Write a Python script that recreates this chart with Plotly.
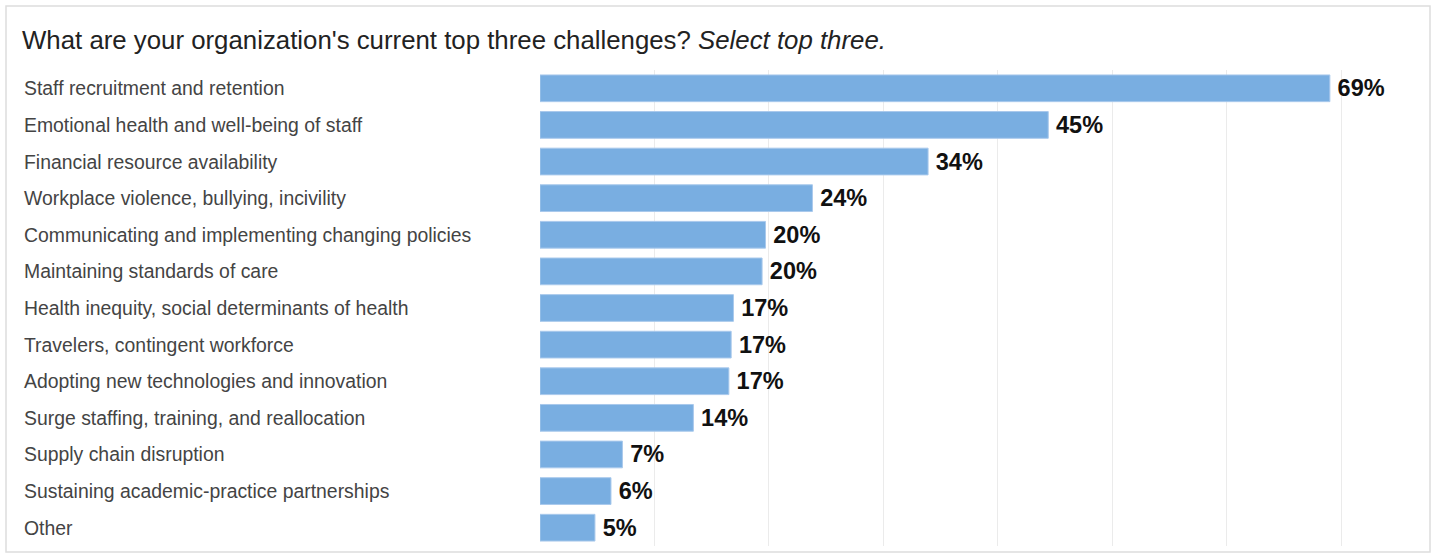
import plotly.graph_objects as go

categories = [
    "Staff recruitment and retention",
    "Emotional health and well-being of staff",
    "Financial resource availability",
    "Workplace violence, bullying, incivility",
    "Communicating and implementing changing policies",
    "Maintaining standards of care",
    "Health inequity, social determinants of health",
    "Travelers, contingent workforce",
    "Adopting new technologies and innovation",
    "Surge staffing, training, and reallocation",
    "Supply chain disruption",
    "Sustaining academic-practice partnerships",
    "Other",
]
values = [69.0, 44.4, 33.9, 23.8, 19.7, 19.4, 16.9, 16.7, 16.5, 13.4, 7.2, 6.2, 4.8]
labels = ["69%", "45%", "34%", "24%", "20%", "20%", "17%", "17%", "17%", "14%", "7%", "6%", "5%"]

W, H = 1433, 555
ML, MR, MT, MB = 540, 23, 70, 9
pw = W - ML - MR
ph = H - MT - MB

fig = go.Figure()
fig.add_trace(go.Bar(
    x=values,
    y=categories,
    orientation="h",
    text=labels,
    textposition="outside",
    textfont=dict(family="Liberation Sans, Arial", size=23.5, color="#111111"),
    texttemplate="\u2009<b>%{text}</b>",
    marker=dict(color="#79aee1", line=dict(color="#a9c9ec", width=1)),
    cliponaxis=False,
    hoverinfo="skip",
))

annotations = []
for c in categories:
    annotations.append(dict(
        x=(22 - ML) / pw, xref="paper", xanchor="left",
        y=c, yref="y", yanchor="middle",
        text=c, showarrow=False,
        font=dict(family="Liberation Sans, Arial", size=19.4, color="#444444"),
    ))
annotations.append(dict(
    x=(20 - ML) / pw, xref="paper", xanchor="left",
    y=(H - MB - 40) / ph, yref="paper", yanchor="middle",
    text="What are your organization's current top three challenges? <i>Select top three.</i>",
    showarrow=False,
    font=dict(family="Liberation Sans, Arial", size=25.8, color="#222222"),
))

shapes = [dict(
    type="rect", xref="paper", yref="paper",
    x0=(6 - ML) / pw, x1=(1430 - ML) / pw,
    y0=(H - MB - 552) / ph, y1=(H - MB - 6) / ph,
    line=dict(color="#dddddd", width=1.5), fillcolor="rgba(0,0,0,0)", layer="below",
)]

fig.update_layout(
    width=W, height=H,
    margin=dict(l=ML, r=MR, t=MT, b=MB),
    paper_bgcolor="white", plot_bgcolor="white",
    showlegend=False,
    bargap=0.27,
    annotations=annotations,
    shapes=shapes,
    xaxis=dict(range=[0, 76], dtick=10, showgrid=True, gridcolor="#ebebeb", gridwidth=1,
               zeroline=False, showticklabels=False, ticks="", showline=False, fixedrange=True),
    yaxis=dict(autorange="reversed", showticklabels=False, showgrid=False, zeroline=False,
               ticks="", showline=False, fixedrange=True),
)

fig.write_html("out.html", config={"displayModeBar": False},
               post_script="document.body.style.margin='0';document.body.style.overflow='hidden';")
